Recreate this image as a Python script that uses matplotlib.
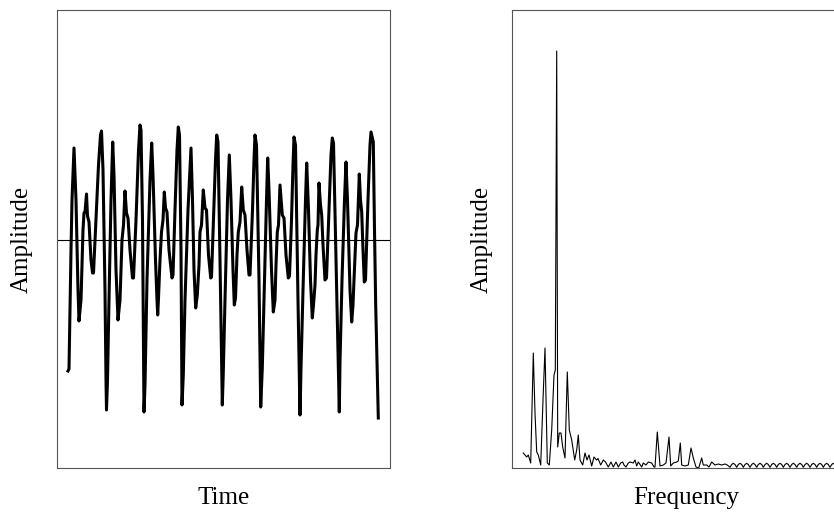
import matplotlib
matplotlib.use("Agg")
import matplotlib.pyplot as plt

plt.rcParams['font.family'] = ['Liberation Serif', 'DejaVu Serif']

# time domain signal (arbitrary units)
time = [11, 12, 14, 15, 17, 19, 21, 22, 24, 26, 27, 28, 29.5, 30.5, 32, 34, 35.5, 36.5,
        39, 41.5, 43.5, 44.5, 46, 48, 49, 49.5, 50.5, 52, 54, 55.7, 57, 59, 61, 63, 65,
        66.5, 68, 69.5, 71, 73, 75.5, 76.5, 79, 81.5, 83, 84, 85.5, 87, 88, 90, 93, 94.7,
        96, 98.5, 100, 100.7, 101.5, 103, 104.5, 106, 107.3, 108.5, 110, 112, 115, 116,
        118, 120, 121.3, 122.5, 124, 125, 126.3, 128, 131, 134, 135.5, 137, 138.7, 140.3,
        142, 143, 144.5, 146.3, 148, 149.5, 151.5, 153.7, 154.5, 156.5, 158.5, 159.7, 161,
        163, 165.3, 166.3, 168, 170.5, 172.3, 174, 176, 177.3, 178.5, 180, 181.3, 183,
        184.7, 186.3, 188, 190, 192, 193, 195.5, 197, 198, 199.5, 202, 203.7, 205.3, 207,
        209.5, 210.7, 212, 214.5, 216.3, 218, 219, 220.3, 221.5, 223, 225.3, 227, 229,
        231.3, 232.5, 234.5, 236, 237, 238.5, 241, 243, 244, 246, 248.5, 249.7, 251.5,
        253.5, 255.3, 256.5, 258, 259, 260.3, 261, 262, 263.5, 264.7, 266, 268, 269.5, 272,
        274, 275.3, 276.5, 279.5, 282.3, 283, 285, 287.5, 289, 290.5, 293, 294.7, 296, 297,
        299, 300.5, 302.3, 303.5, 304.7, 306, 307.3, 308.5, 311, 313, 314, 316.3, 317.5,
        318.7, 321.3]
signal = [-1.31, -1.29, -0.10, 0.40, 0.92, 0.40, -0.50, -0.81, -0.60, 0.10, 0.27, 0.28,
          0.46, 0.24, 0.18, -0.20, -0.33, -0.33, 0.20, 0.75, 1.05, 1.09, 0.70, -0.50, -1.40,
          -1.70, -1.40, -0.60, 0.40, 0.98, 0.65, -0.30, -0.80, -0.60, 0.00, 0.15, 0.49, 0.27,
          0.22, -0.10, -0.38, -0.38, 0.20, 0.90, 1.15, 1.10, 0.20, -1.72, -1.45, -0.40, 0.60,
          0.97, 0.65, -0.20, -0.60, -0.75, -0.58, -0.20, 0.08, 0.20, 0.48, 0.32, 0.28, -0.10,
          -0.38, -0.35, 0.30, 0.90, 1.13, 1.05, -0.10, -1.65, -1.35, -0.60, 0.30, 0.92, 0.40,
          -0.30, -0.68, -0.55, -0.25, 0.08, 0.15, 0.50, 0.32, 0.30, -0.15, -0.38, -0.37, 0.20,
          0.80, 1.05, 0.98, -0.20, -1.65, -1.32, -0.60, 0.40, 0.85, 0.40, -0.30, -0.65, -0.58,
          -0.15, 0.08, 0.18, 0.53, 0.30, 0.25, -0.10, -0.35, -0.35, 0.30, 0.80, 1.05, 0.95,
          -0.40, -1.67, -1.28, -0.60, 0.40, 0.82, 0.50, -0.30, -0.72, -0.60, -0.25, 0.08, 0.15,
          0.55, 0.25, 0.22, -0.15, -0.38, -0.36, 0.20, 0.75, 1.03, 0.95, -0.60, -1.75, -1.28,
          -0.50, 0.40, 0.77, 0.30, -0.40, -0.78, -0.65, -0.45, -0.15, 0.10, 0.15, 0.57, 0.35,
          0.25, -0.05, -0.40, -0.38, 0.30, 0.85, 1.02, 0.97, -0.40, -1.72, -1.22, -0.40, 0.40,
          0.78, 0.40, -0.50, -0.82, -0.65, -0.40, 0.07, 0.15, 0.66, 0.40, 0.28, -0.10, -0.42,
          -0.40, 0.40, 0.95, 1.08, 0.98, 0.10, -0.65, -1.78]

# magnitude spectrum, low part
freq = [11.3, 13, 14.7, 16.3, 18.7, 21.3, 23, 24.7, 26.3, 28.7, 31, 33, 34.7, 35.3, 37.3,
        39.7, 42, 43.3, 44.7, 45.7, 47.3, 49, 50.7, 53, 55.3, 57.3, 59.7, 62.7, 64.7, 66.3,
        68, 70.7, 73, 75, 77, 79.7, 82, 84.5, 86, 88.7, 91.3, 93.5, 96.3, 99, 101.3, 104,
        106.3, 108.7, 110.7, 112, 114, 116.3, 118, 121.3, 123, 124.7, 126.3, 129.7, 131.3,
        134, 136.3, 139.7, 142, 143, 145.3, 148, 151.3, 154, 157, 158.7, 161.3, 164.7, 166.3,
        168.3, 169.7, 173, 176.3, 179, 181.3, 184, 186.7, 189.7, 191.3, 194.7, 197, 199.7,
        203, 206.3, 209.7, 213, 215.3]
magnitude = [0.15, 0.13, 0.11, 0.13, 0.05, 1.15, 0.55, 0.16, 0.13, 0.03, 0.68, 1.20, 0.38,
             0.05, 0.03, 0.38, 0.93, 0.98, 4.17, 0.21, 0.35, 0.35, 0.21, 0.10, 0.96, 0.38,
             0.28, 0.08, 0.18, 0.33, 0.08, 0.03, 0.15, 0.08, 0.13, 0.02, 0.11, 0.08, 0.095,
             0.03, 0.08, 0.06, 0.01, 0.06, 0.01, 0.06, 0.01, 0.05, 0.06, 0.03, 0.01, 0.05,
             0.06, 0.05, 0.08, 0.02, 0.06, 0.01, 0.05, 0.03, 0.06, 0.05, 0.01, 0.01, 0.36,
             0.02, 0.03, 0.05, 0.31, 0.02, 0.05, 0.06, 0.07, 0.25, 0.03, 0.02, 0.03, 0.20,
             0.10, 0.01, 0.0, 0.10, 0.03, 0.03, 0.01, 0.06, 0.03, 0.04, 0.03, 0.04, 0.03]

# high part: small regular arches
freq_tail = [218.0, 219.7, 221.3, 223.0, 224.7, 226.3, 228.0, 229.7, 231.3, 233.0,
             234.7, 236.3, 238.0, 239.7, 241.3, 243.0, 244.7, 246.3, 248.0, 249.7,
             251.3, 253.0, 254.7, 256.3, 258.0, 259.7, 261.3, 263.0, 264.7, 266.3,
             268.0, 269.7, 271.3, 273.0, 274.7, 276.3, 278.0, 279.7, 281.3, 283.0,
             284.7, 286.3, 288.0, 289.7, 291.3, 293.0, 294.7, 296.3, 298.0, 299.7,
             301.3, 303.0, 304.7, 306.3, 308.0, 309.7, 311.3, 313.0, 314.7, 316.3,
             318.0, 319.7, 321.3, 323.0, 324.7, 326.3, 328.0, 329.7, 331.3, 333.0,
             334.7, 336.3, 338.0]
magnitude_tail = [0.007, 0.035, 0.047, 0.035, 0.007, 0.035, 0.047, 0.035, 0.007, 0.035,
                  0.047, 0.035, 0.007, 0.035, 0.047, 0.035, 0.007, 0.035, 0.047, 0.035,
                  0.007, 0.035, 0.047, 0.035, 0.007, 0.035, 0.047, 0.035, 0.007, 0.035,
                  0.047, 0.035, 0.007, 0.035, 0.047, 0.035, 0.007, 0.035, 0.047, 0.035,
                  0.007, 0.035, 0.047, 0.035, 0.007, 0.035, 0.047, 0.035, 0.007, 0.035,
                  0.047, 0.035, 0.007, 0.035, 0.047, 0.035, 0.007, 0.035, 0.047, 0.035,
                  0.007, 0.035, 0.047, 0.035, 0.007, 0.035, 0.047, 0.035, 0.007, 0.035,
                  0.047, 0.035, 0.007]

fig = plt.figure(figsize=(8.34, 5.12), dpi=100)
ax1 = fig.add_axes([57 / 834, 44 / 512, 333 / 834, 458 / 512])
ax2 = fig.add_axes([512 / 834, 44 / 512, 349 / 834, 458 / 512])

ax1.plot(time, signal, color='black', lw=2.2, solid_joinstyle='round')
ax1.axhline(0, color='black', lw=0.8)
ax1.set_xlim(0, 333)
ax1.set_ylim(-2.28, 2.30)

ax2.plot(freq + freq_tail, magnitude + magnitude_tail, color='black', lw=0.8,
         solid_joinstyle='round')
ax2.set_xlim(0, 349)
ax2.set_ylim(0, 4.58)

for ax, xl, ycoord in [(ax1, 'Time', -0.105), (ax2, 'Frequency', -0.086)]:
    ax.set_xticks([])
    ax.set_yticks([])
    for s in ax.spines.values():
        s.set_color('#555555')
        s.set_linewidth(0.8)
    ax.set_xlabel(xl, fontsize=18)
    ax.set_ylabel('Amplitude', fontsize=18)
    ax.xaxis.set_label_coords(0.5, -0.065)
    ax.xaxis.label.set_va('center')
    ax.yaxis.set_label_coords(ycoord, 0.5)
    ax.yaxis.label.set_va('center')

fig.savefig('out.png', dpi=100)
